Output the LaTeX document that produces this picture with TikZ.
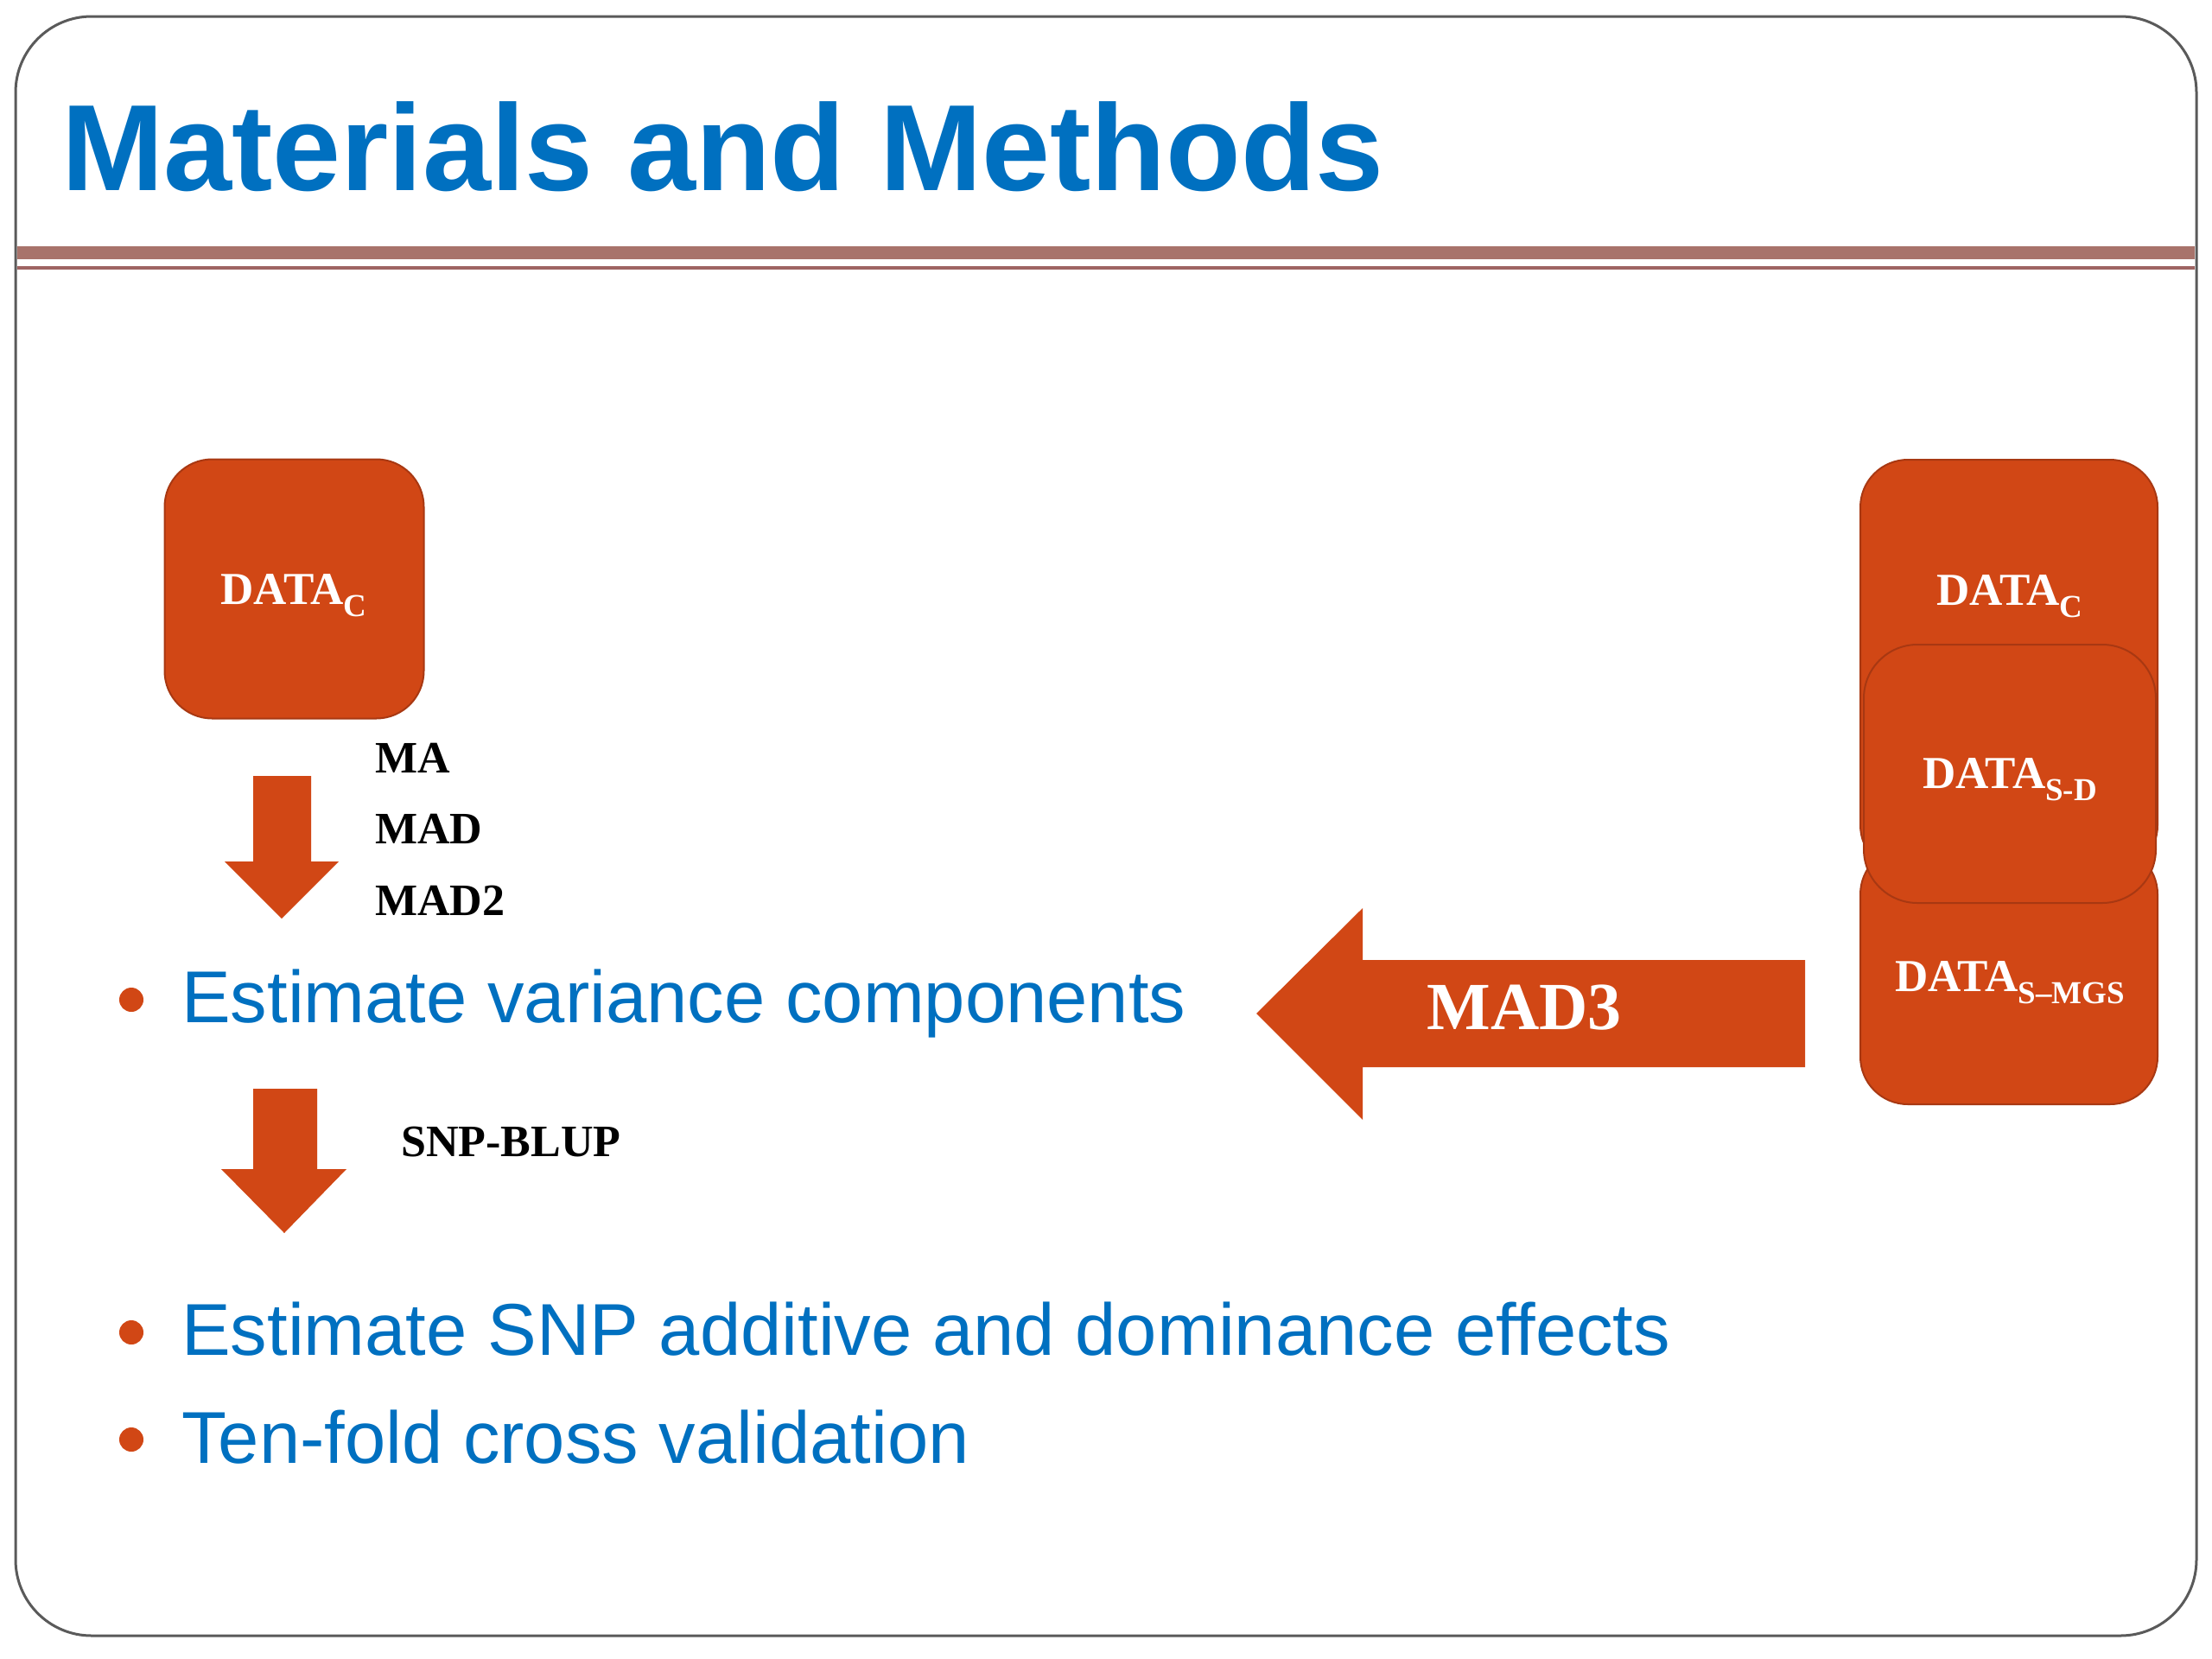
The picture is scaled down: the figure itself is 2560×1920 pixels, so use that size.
\documentclass[tikz,border=0pt]{standalone}
\usepackage{fontspec}
\setmainfont{Liberation Serif}
\newfontfamily\sansf{Liberation Sans}
\definecolor{orng}{RGB}{209,71,21}
\definecolor{orngdark}{RGB}{168,56,18}
\definecolor{ttlblue}{RGB}{0,112,192}
\definecolor{rulec}{RGB}{168,115,107}
\definecolor{rulecb}{RGB}{158,100,98}
\definecolor{framec}{RGB}{90,90,90}
\newcommand{\dsub}[1]{\raisebox{-14pt}{\fontsize{37}{37}\selectfont #1}}
\tikzset{
  databox/.style={draw=orngdark, line width=2pt, fill=orng, rectangle, inner sep=0pt},
  datatext/.style={text=white, font=\bfseries\fontsize{53}{60}\selectfont, anchor=base, inner sep=0pt},
  methlabel/.style={text=black, font=\bfseries\fontsize{52}{58}\selectfont, anchor=base west, inner sep=0pt},
  bullettext/.style={text=ttlblue, font=\sansf\fontsize{85}{100}\selectfont, anchor=base west, inner sep=0pt},
  bulletdot/.style={circle, fill=orng, minimum size=28pt, inner sep=0pt},
  blockarrow/.style={fill=orng},
}
\begin{document}
\begin{tikzpicture}[x=1pt, y=-1pt]
\useasboundingbox (0,0) rectangle (2560,1920);
\fill[white] (0,0) rectangle (2560,1920);
% frame
\draw[framec, line width=3pt, rounded corners=88pt] (18,19) rectangle (2542,1893);
% title
\node[text=ttlblue, font=\sansf\bfseries\fontsize{142}{160}\selectfont, anchor=base west, inner sep=0pt] (title) at (71,220) {Materials and Methods};
% rules
\fill[rulec] (20,285) rectangle (2540,300);
\fill[rulecb] (20,308) rectangle (2540,312);
% left box
\node[databox, rounded corners=55pt, minimum width=300pt, minimum height=300pt] (leftbox) at (340.5,681.5) {};
\node[datatext] (lefttext) at (340,699) {DATA\dsub{C}};
% right stack
\node[databox, rounded corners=55pt, minimum width=344pt, minimum height=478pt] (topbox) at (2325,771) {};
\node[databox, rounded corners=55pt, minimum width=344pt, minimum height=298pt] (botbox) at (2325,1129) {};
\node[databox, rounded corners=62pt, minimum width=338pt, minimum height=299pt] (midbox) at (2326,895.5) {};
\node[datatext] (toptext) at (2326,700) {DATA\dsub{C}};
\node[datatext] (midtext) at (2326,912) {DATA\dsub{S-D}};
\node[datatext] (bottext) at (2326,1147) {DATA\dsub{S–MGS}};
% MAD3 arrow
\coordinate (m3tip) at (1454,1173);
\fill[blockarrow] (m3tip) -- (1577,1051) -- (1577,1111) -- (2089,1111) -- (2089,1235) -- (1577,1235) -- (1577,1296) -- cycle;
\node[text=white, font=\bfseries\fontsize{78}{86}\selectfont, anchor=base, inner sep=0pt] (mad3) at (1764,1191) {MAD3};
% down arrow 1
\coordinate (a1tip) at (326,1063);
\fill[blockarrow] (293,898) -- (360,898) -- (360,997) -- (392,997) -- (a1tip) -- (260,997) -- (293,997) -- cycle;
\node[methlabel] (ma) at (434,894) {MA};
\node[methlabel] (mad) at (434,976) {MAD};
\node[methlabel] (mad2) at (434,1059) {MAD2};
% down arrow 2
\coordinate (a2tip) at (329,1427);
\fill[blockarrow] (293,1260) -- (367,1260) -- (367,1353) -- (401,1353) -- (a2tip) -- (256,1353) -- (293,1353) -- cycle;
\node[methlabel] (snpblup) at (464,1338) {SNP-BLUP};
% bullets
\node[bulletdot] (b1) at (152,1157) {};
\node[bullettext] (t1) at (210,1183) {Estimate variance components};
\node[bulletdot] (b2) at (152,1542) {};
\node[bullettext] (t2) at (210,1568) {Estimate SNP additive and dominance effects};
\node[bulletdot] (b3) at (152,1666) {};
\node[bullettext] (t3) at (210,1693) {Ten-fold cross validation};
\end{tikzpicture}
\end{document}
